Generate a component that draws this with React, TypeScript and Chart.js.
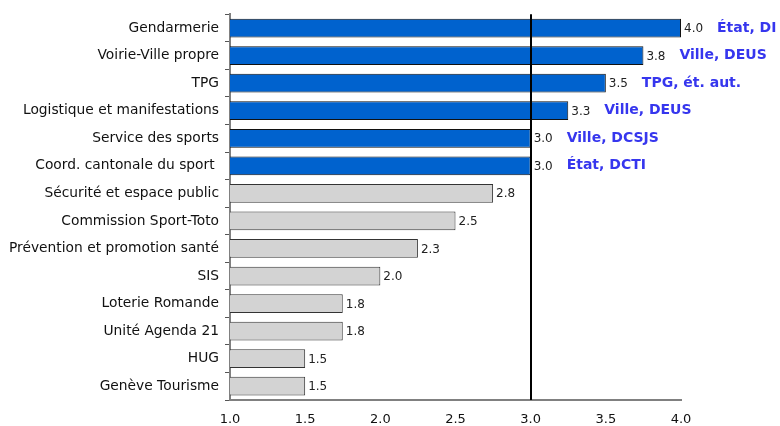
import React, { useEffect, useRef } from "react";
import { Chart, registerables } from "chart.js";

Chart.register(...registerables);

const categories = [
  "Gendarmerie",
  "Voirie-Ville propre",
  "TPG",
  "Logistique et manifestations",
  "Service des sports",
  "Coord. cantonale du sport ",
  "Sécurité et espace public",
  "Commission Sport-Toto",
  "Prévention et promotion santé",
  "SIS",
  "Loterie Romande",
  "Unité Agenda 21",
  "HUG",
  "Genève Tourisme",
];

const values = [4.0, 3.75, 3.5, 3.25, 3.0, 3.0, 2.75, 2.5, 2.25, 2.0, 1.75, 1.75, 1.5, 1.5];

const valueLabels = ["4.0", "3.8", "3.5", "3.3", "3.0", "3.0", "2.8", "2.5", "2.3", "2.0", "1.8", "1.8", "1.5", "1.5"];

const ownerLabels = ["État, DI", "Ville, DEUS", "TPG, ét. aut.", "Ville, DEUS", "Ville, DCSJS", "État, DCTI", "", "", "", "", "", "", "", ""];

const highlighted = [true, true, true, true, true, true, false, false, false, false, false, false, false, false];

const xTicks = [1.0, 1.5, 2.0, 2.5, 3.0, 3.5, 4.0];
const referenceValue = 3.0;

const FONT = "'DejaVu Sans', Verdana, sans-serif";

export default function App() {
  const canvasRef = useRef<HTMLCanvasElement | null>(null);

  useEffect(() => {
    if (!canvasRef.current) return;

    const overlay = {
      id: "overlay",
      afterDatasetsDraw(chart: any) {
        const ctx = chart.ctx;
        const meta = chart.getDatasetMeta(0);
        const xs = chart.scales.x;
        const area = chart.chartArea;
        ctx.save();
        const lx = Math.round(xs.getPixelForValue(referenceValue));
        ctx.strokeStyle = "#000";
        ctx.lineWidth = 2;
        ctx.beginPath();
        ctx.moveTo(lx, area.top);
        ctx.lineTo(lx, area.bottom);
        ctx.stroke();
        ctx.textBaseline = "middle";
        ctx.textAlign = "left";
        meta.data.forEach((bar: any, i: number) => {
          ctx.fillStyle = "#222";
          ctx.font = `12px ${FONT}`;
          ctx.fillText(valueLabels[i], bar.x + 3, bar.y + 1);
          if (ownerLabels[i]) {
            ctx.fillStyle = "#3636EE";
            ctx.font = `bold 14px ${FONT}`;
            ctx.fillText(ownerLabels[i], bar.x + 36, bar.y);
          }
        });
        ctx.restore();
      },
    };

    const chart = new Chart(canvasRef.current, {
      type: "bar",
      data: {
        labels: categories,
        datasets: [
          {
            data: values,
            backgroundColor: highlighted.map((h) => (h ? "#0062CE" : "#D3D3D3")),
            borderColor: highlighted.map((h) => (h ? "#111" : "#333")),
            borderWidth: 1,
            borderSkipped: false,
            barPercentage: 0.68,
            categoryPercentage: 1,
          },
        ],
      },
      options: {
        indexAxis: "y",
        animation: false,
        responsive: false,
        maintainAspectRatio: false,
        layout: { padding: { top: 13, right: 99, left: 0, bottom: 0 } },
        plugins: {
          legend: { display: false },
          tooltip: { enabled: false },
        },
        scales: {
          x: {
            type: "linear",
            min: 1,
            max: 4,
            afterBuildTicks: (scale: any) => {
              scale.ticks = xTicks.map((v) => ({ value: v }));
            },
            afterFit: (scale: any) => {
              scale.height = 26;
            },
            ticks: {
              callback: (v: any) => Number(v).toFixed(1),
              color: "#111",
              font: { family: FONT, size: 13 },
              padding: 12,
            },
            grid: { display: false, drawTicks: false },
            border: { display: true, color: "#808080", width: 2 },
          },
          y: {
            type: "category",
            afterFit: (scale: any) => {
              scale.width = 230;
            },
            ticks: {
              color: "#111",
              font: { family: FONT, size: 13.8 },
              padding: 6,
            },
            grid: {
              display: true,
              offset: true,
              drawOnChartArea: false,
              drawTicks: true,
              tickLength: 5,
              color: "#555",
            },
            border: { display: true, color: "#808080", width: 2 },
          },
        },
      },
      plugins: [overlay],
    });

    return () => chart.destroy();
  }, []);

  return (
    <div style={{ position: "fixed", left: 0, top: 0, width: 780, height: 426, background: "#fff" }}>
      <canvas ref={canvasRef} width={780} height={426} style={{ width: 780, height: 426 }} />
    </div>
  );
}
